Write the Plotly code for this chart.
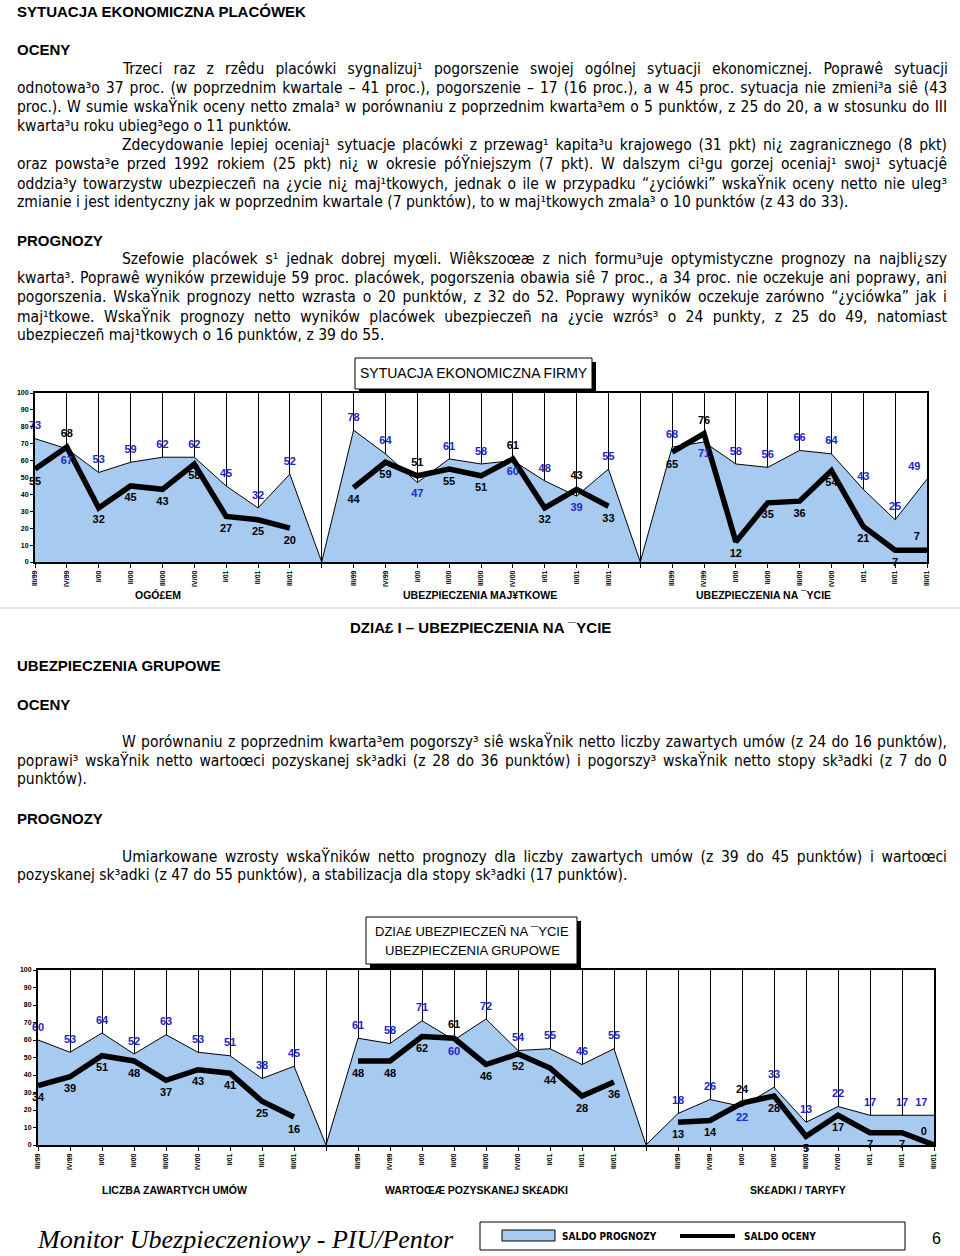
import json
import plotly.graph_objects as go

W, H = 960, 1256
def px(x): return x / W
def py(y): return 1 - y / H

# ---------------- data ----------------
quarters = ["III/99", "IV/99", "I/00", "II/00", "III/00", "IV/00", "I/01", "II/01", "III/01"]

top_titles = ["OGÓ£EM", "UBEZPIECZENIA MAJ¥TKOWE", "UBEZPIECZENIA NA ¯YCIE"]
ogolem_prognoza = [73, 67, 53, 59, 62, 62, 45, 32, 52]
ogolem_ocena = [55, 68, 32, 45, 43, 58, 27, 25, 20]
majatkowe_prognoza = [78, 64, 47, 61, 58, 60, 48, 39, 55]
majatkowe_ocena = [44, 59, 51, 55, 51, 61, 32, 43, 33]
zycie_prognoza = [68, 71, 58, 56, 66, 64, 43, 25, 49]
zycie_ocena = [65, 76, 12, 35, 36, 54, 21, 7, 7]

bottom_titles = ["LICZBA ZAWARTYCH UMÓW", "WARTOŒÆ POZYSKANEJ SK£ADKI", "SK£ADKI / TARYFY"]
umowy_prognoza = [60, 53, 64, 52, 63, 53, 51, 38, 45]
umowy_ocena = [34, 39, 51, 48, 37, 43, 41, 25, 16]
skladka_prognoza = [61, 58, 71, 60, 72, 54, 55, 46, 55]
skladka_ocena = [48, 48, 62, 61, 46, 52, 44, 28, 36]
taryfy_prognoza = [18, 26, 22, 33, 13, 22, 17, 17, 17]
taryfy_ocena = [13, 14, 24, 28, 5, 17, 7, 7, 0]

legend_labels = ["SALDO PROGNOZY", "SALDO OCENY"]

# ---------------- styles ----------------
FILL = "#A6CAF0"
BLUE = "#2424C8"
BODY_FONT = "Liberation Sans Narrow, Arial Narrow, DejaVu Sans Condensed, sans-serif"
HEAD_FONT = "Liberation Sans, Arial, sans-serif"

fig = go.Figure()


def add_chart(panels, xa, ya):
    ax, ay, at, apos = [], [], [], []
    lx, ly, lt, lpos = [], [], [], []
    n_panels = len(panels)
    for p, (prog, oc) in enumerate(panels):
        base = p * 10
        if p > 0:
            ax.append(base - 1); ay.append(0); at.append(""); apos.append("top center")
            lx.append(base - 1); ly.append(None); lt.append(""); lpos.append("top center")
        for i, (a, b) in enumerate(zip(prog, oc)):
            ax.append(base + i); ay.append(a); at.append(str(a))
            lx.append(base + i); ly.append(b); lt.append(str(b))
            last = (p == n_panels - 1 and i == len(prog) - 1)
            if last:
                apos.append("top left"); lpos.append("top left")
            elif b < 3:
                apos.append("top center"); lpos.append("top center")
            elif b >= a:
                lpos.append("top center"); apos.append("bottom center")
            else:
                lpos.append("bottom center"); apos.append("top center")
    fig.add_trace(go.Scatter(
        x=ax, y=ay, xaxis=xa, yaxis=ya, mode="lines", fill="tozeroy",
        fillcolor=FILL, line=dict(color="black", width=1),
        showlegend=False, hoverinfo="skip"))
    fig.add_trace(go.Scatter(
        x=lx, y=ly, xaxis=xa, yaxis=ya, mode="lines", connectgaps=False,
        line=dict(color="black", width=5.5),
        showlegend=False, hoverinfo="skip"))
    fig.add_trace(go.Scatter(
        x=ax, y=ay, xaxis=xa, yaxis=ya, mode="markers+text", text=at,
        textposition=apos, marker=dict(size=9, color="rgba(0,0,0,0)"),
        textfont=dict(family=HEAD_FONT, size=11, color=BLUE, weight="bold"),
        cliponaxis=False, showlegend=False, hoverinfo="skip"))
    fig.add_trace(go.Scatter(
        x=lx, y=ly, xaxis=xa, yaxis=ya, mode="markers+text", text=lt,
        textposition=lpos, marker=dict(size=10, color="rgba(0,0,0,0)"),
        textfont=dict(family=HEAD_FONT, size=11, color="black", weight="bold"),
        cliponaxis=False, showlegend=False, hoverinfo="skip"))


add_chart([(ogolem_prognoza, ogolem_ocena),
           (majatkowe_prognoza, majatkowe_ocena),
           (zycie_prognoza, zycie_ocena)], "x", "y")
add_chart([(umowy_prognoza, umowy_ocena),
           (skladka_prognoza, skladka_ocena),
           (taryfy_prognoza, taryfy_ocena)], "x2", "y2")

tickvals = list(range(29))
ticktext = quarters + [""] + quarters + [""] + quarters


def xaxis_cfg(x0, x1, anchor):
    return dict(domain=[px(x0), px(x1)], range=[0, 28], anchor=anchor, automargin=False,
                tickmode="array", tickvals=tickvals, ticktext=ticktext,
                tickangle=-90, tickfont=dict(family=HEAD_FONT, size=7, color="black", weight="bold"),
                ticks="outside", ticklen=4, tickcolor="black", tickwidth=1,
                showgrid=True, gridcolor="black", gridwidth=1,
                showline=True, linecolor="black", linewidth=1.5, mirror=True,
                zeroline=False, fixedrange=True)


def yaxis_cfg(y_bottom, y_top, anchor):
    return dict(domain=[py(y_bottom), py(y_top)], range=[0, 100], anchor=anchor, automargin=False,
                tickmode="linear", tick0=0, dtick=10,
                tickfont=dict(family=HEAD_FONT, size=7, color="black", weight="bold"),
                ticks="outside", ticklen=3, tickcolor="black",
                showgrid=False, showline=True, linecolor="black", linewidth=2, mirror=True,
                zeroline=False, fixedrange=True)


fig.update_layout(
    width=W, height=H, margin=dict(l=0, r=0, t=0, b=0, pad=0), autosize=False,
    paper_bgcolor="white", plot_bgcolor="white", showlegend=False,
    xaxis=xaxis_cfg(35, 927, "y"), yaxis=yaxis_cfg(562, 393, "x"),
    xaxis2=xaxis_cfg(38, 934, "y2"), yaxis2=yaxis_cfg(1145, 970, "x2"),
)

annotations = []
justify = []


def text(x, y, s, size=15, family=BODY_FONT, bold=False, anchor="left", italic=False, color="black"):
    annotations.append(dict(
        xref="paper", yref="paper", x=px(x), y=py(y), text=s, showarrow=False,
        xanchor=anchor, yanchor="middle", align="left" if anchor == "left" else "center",
        font=dict(family=family, size=size, color=color,
                  weight="bold" if bold else "normal",
                  style="italic" if italic else "normal")))
    return len(annotations) - 1


def para(lines, y0, step=19):
    for k, ln in enumerate(lines):
        x = 120 if k == 0 else 15
        idx = text(x, y0 + k * step, ln, size=15.5)
        if k < len(lines) - 1:
            justify.append([idx, 945 - x])


# --- section 1 text ---
text(15, 12, "SYTUACJA EKONOMICZNA PLACÓWEK", size=15, family=HEAD_FONT, bold=True)
text(15, 49, "OCENY", size=15, family=HEAD_FONT, bold=True)
para([
    "Trzeci raz z rzêdu placówki sygnalizuj¹ pogorszenie swojej ogólnej sytuacji ekonomicznej. Poprawê sytuacji",
    "odnotowa³o 37 proc. (w poprzednim kwartale – 41 proc.), pogorszenie – 17 (16 proc.), a w 45 proc. sytuacja nie zmieni³a siê (43",
    "proc.). W sumie wskaŸnik oceny netto zmala³ w porównaniu z poprzednim kwarta³em o 5 punktów, z 25 do 20, a w stosunku do III",
    "kwarta³u roku ubieg³ego o 11 punktów.",
], 69)
para([
    "Zdecydowanie lepiej oceniaj¹ sytuacje placówki z przewag¹ kapita³u krajowego (31 pkt) ni¿ zagranicznego (8 pkt)",
    "oraz powsta³e przed 1992 rokiem (25 pkt) ni¿ w okresie póŸniejszym (7 pkt). W dalszym ci¹gu gorzej oceniaj¹ swoj¹ sytuacjê",
    "oddzia³y towarzystw ubezpieczeñ na ¿ycie ni¿ maj¹tkowych, jednak o ile w przypadku “¿yciówki” wskaŸnik oceny netto nie uleg³",
    "zmianie i jest identyczny jak w poprzednim kwartale (7 punktów), to w maj¹tkowych zmala³ o 10 punktów (z 43 do 33).",
], 145)
text(15, 241, "PROGNOZY", size=15, family=HEAD_FONT, bold=True)
para([
    "Szefowie placówek s¹ jednak dobrej myœli. Wiêkszoœæ z nich formu³uje optymistyczne prognozy na najbli¿szy",
    "kwarta³. Poprawê wyników przewiduje 59 proc. placówek, pogorszenia obawia siê 7 proc., a 34 proc. nie oczekuje ani poprawy, ani",
    "pogorszenia. WskaŸnik prognozy netto wzrasta o 20 punktów, z 32 do 52. Poprawy wyników oczekuje zarówno “¿yciówka” jak i",
    "maj¹tkowe. WskaŸnik prognozy netto wyników placówek ubezpieczeñ na ¿ycie wzrós³ o 24 punkty, z 25 do 49, natomiast",
    "ubezpieczeñ maj¹tkowych o 16 punktów, z 39 do 55.",
], 259)

# --- chart 1 title box ---
shapes = []
def box(x0, y0, x1, y1, shadow=4):
    shapes.append(dict(type="rect", xref="paper", yref="paper",
                       x0=px(x0 + shadow), x1=px(x1 + shadow), y0=py(y1 + shadow), y1=py(y0 + shadow),
                       fillcolor="black", line=dict(width=0)))
    shapes.append(dict(type="rect", xref="paper", yref="paper",
                       x0=px(x0), x1=px(x1), y0=py(y1), y1=py(y0),
                       fillcolor="white", line=dict(color="black", width=1)))

box(355, 358, 592, 389)
text(474, 373, "SYTUACJA EKONOMICZNA FIRMY", size=14, family=HEAD_FONT, anchor="center")

text(158, 595, top_titles[0], size=10.5, family=HEAD_FONT, bold=True, anchor="center")
text(480, 595, top_titles[1], size=10.5, family=HEAD_FONT, bold=True, anchor="center")
text(763, 595, top_titles[2], size=10.5, family=HEAD_FONT, bold=True, anchor="center")
shapes.append(dict(type="line", xref="paper", yref="paper", x0=0, x1=1, y0=py(608), y1=py(608),
                   line=dict(color="#d0d0d0", width=1)))

# --- section 2 text ---
text(480, 627, "DZIA£ I – UBEZPIECZENIA NA ¯YCIE", size=15, family=HEAD_FONT, bold=True, anchor="center")
text(15, 665, "UBEZPIECZENIA GRUPOWE", size=15, family=HEAD_FONT, bold=True)
text(15, 704, "OCENY", size=15, family=HEAD_FONT, bold=True)
para([
    "W porównaniu z poprzednim kwarta³em pogorszy³ siê wskaŸnik netto liczby zawartych umów (z 24 do 16 punktów),",
    "poprawi³ wskaŸnik netto wartoœci pozyskanej sk³adki (z 28 do 36 punktów) i pogorszy³ wskaŸnik netto stopy sk³adki (z 7 do 0",
    "punktów).",
], 741)
text(15, 818, "PROGNOZY", size=15, family=HEAD_FONT, bold=True)
para([
    "Umiarkowane wzrosty wskaŸników netto prognozy dla liczby zawartych umów (z 39 do 45 punktów) i wartoœci",
    "pozyskanej sk³adki (z 47 do 55 punktów), a stabilizacja dla stopy sk³adki (17 punktów).",
], 856)

# --- chart 2 title box ---
box(366, 917, 577, 964)
text(472, 931, "DZIA£ UBEZPIECZEÑ NA ¯YCIE", size=13, family=HEAD_FONT, anchor="center")
text(472, 950, "UBEZPIECZENIA GRUPOWE", size=13, family=HEAD_FONT, anchor="center")

text(174, 1190, bottom_titles[0], size=10.5, family=HEAD_FONT, bold=True, anchor="center")
text(476, 1190, bottom_titles[1], size=10.5, family=HEAD_FONT, bold=True, anchor="center")
text(798, 1190, bottom_titles[2], size=10.5, family=HEAD_FONT, bold=True, anchor="center")

# --- footer ---
text(35, 1239, "Monitor Ubezpieczeniowy - PIU/Pentor", size=26,
     family="Liberation Serif, Times New Roman, serif", italic=True)
shapes.append(dict(type="rect", xref="paper", yref="paper", x0=px(480), x1=px(905),
                   y0=py(1250), y1=py(1222), line=dict(color="black", width=1), fillcolor="white"))
shapes.append(dict(type="rect", xref="paper", yref="paper", x0=px(502), x1=px(555),
                   y0=py(1241), y1=py(1230), line=dict(color="black", width=1), fillcolor=FILL))
shapes.append(dict(type="rect", xref="paper", yref="paper", x0=px(680), x1=px(735),
                   y0=py(1238), y1=py(1234), line=dict(width=0), fillcolor="black"))
text(560, 1236, legend_labels[0], size=10, family=BODY_FONT, bold=True)
text(742, 1236, legend_labels[1], size=10, family=BODY_FONT, bold=True)
text(930, 1238, "6", size=16, family=HEAD_FONT)

fig.update_layout(annotations=annotations, shapes=shapes)

post = """
(function(){
  document.documentElement.style.margin = '0';
  document.documentElement.style.padding = '0';
  document.documentElement.style.overflow = 'hidden';
  document.body.style.margin = '0';
  document.body.style.padding = '0';
  document.body.style.overflow = 'hidden';
  var gd = document.getElementById('{plot_id}');
  var J = %s;
  function run(){
    J.forEach(function(p){
      var t = gd.querySelector('g.annotation[data-index="' + p[0] + '"] text.annotation-text');
      if(!t) return;
      t.style.wordSpacing = '0px';
      var len = t.getComputedTextLength();
      var n = (t.textContent.match(/ /g) || []).length;
      if(n > 0 && len < p[1]) t.style.wordSpacing = ((p[1] - len) / n) + 'px';
    });
  }
  run();
  if (gd && gd.on) gd.on('plotly_afterplot', run);
})();
""" % json.dumps(justify)

fig.write_html("out.html", post_script=post, config={"displayModeBar": False})
